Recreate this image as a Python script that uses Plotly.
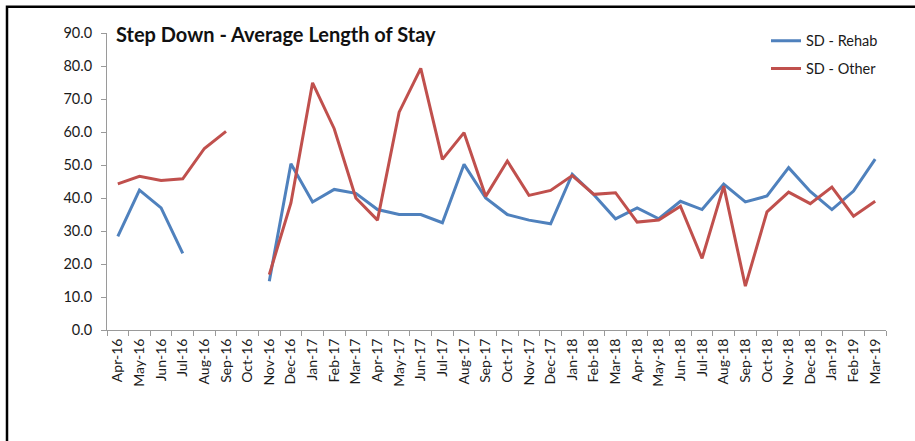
import plotly.graph_objects as go

months = ["Apr-16","May-16","Jun-16","Jul-16","Aug-16","Sep-16","Oct-16","Nov-16","Dec-16",
          "Jan-17","Feb-17","Mar-17","Apr-17","May-17","Jun-17","Jul-17","Aug-17","Sep-17",
          "Oct-17","Nov-17","Dec-17","Jan-18","Feb-18","Mar-18","Apr-18","May-18","Jun-18",
          "Jul-18","Aug-18","Sep-18","Oct-18","Nov-18","Dec-18","Jan-19","Feb-19","Mar-19"]

sd_rehab = [28.4, 42.4, 37.0, 23.2, None, None, None, 14.8, 50.4,
            38.8, 42.6, 41.4, 36.5, 35.0, 35.0, 32.5, 50.2, 40.0,
            35.0, 33.3, 32.2, 47.2, 41.0, 33.7, 37.0, 33.7, 39.0,
            36.5, 44.2, 38.8, 40.6, 49.2, 42.0, 36.5, 42.1, 51.8]

sd_other = [44.3, 46.6, 45.3, 45.8, 55.0, 60.2, None, 16.8, 38.5,
            74.9, 61.0, 40.0, 33.3, 66.0, 79.3, 51.7, 59.8, 40.5,
            51.2, 40.8, 42.3, 46.8, 41.1, 41.6, 32.7, 33.3, 37.5,
            21.7, 43.6, 13.3, 35.8, 41.8, 38.3, 43.3, 34.5, 39.0]

y_ticks = [0, 10, 20, 30, 40, 50, 60, 70, 80, 90]
y_labels = [f"{v:.1f}" for v in y_ticks]

font_family = "Lato, Open Sans, sans-serif"

fig = go.Figure()
fig.add_trace(go.Scatter(x=months, y=sd_rehab, mode="lines", name="SD - Rehab",
                         line=dict(color="#4F81BD", width=3), connectgaps=False,
                         legendgroup="a"))
fig.add_trace(go.Scatter(x=months, y=sd_other, mode="lines", name="SD - Other",
                         line=dict(color="#C0504D", width=3), connectgaps=False,
                         legendgroup="b"))

L, R, T, B = 107, 886, 33.3, 330.5
W, H = 915, 441

def px(x):
    return (x - L) / (R - L)

def py(y):
    return (B - y) / (B - T)

fig.update_layout(
    width=W, height=H,
    margin=dict(l=L, r=W - R, t=T, b=H - B, pad=0),
    paper_bgcolor="white", plot_bgcolor="white",
    font=dict(family=font_family, size=14, color="#1a1a1a"),
    title=dict(text="<b>Step Down - Average Length of Stay</b>",
               font=dict(family=font_family, size=20, color="#111111"),
               xref="paper", yref="paper", x=px(116), y=py(35),
               xanchor="left", yanchor="middle"),
    showlegend=True,
    legend=dict(x=px(766), y=py(25), xanchor="left", yanchor="top",
                bgcolor="rgba(0,0,0,0)", font=dict(size=14.5),
                traceorder="grouped", tracegroupgap=6, itemwidth=30),
    xaxis=dict(type="category", categoryorder="array", categoryarray=months,
               showgrid=False, showline=True, linecolor="#9a9a9a", linewidth=1,
               ticks="outside", ticklen=5, tickcolor="#9a9a9a", tickson="boundaries",
               tickangle=-90, tickfont=dict(size=14), zeroline=False,
               ticklabelstandoff=2,
               range=[-0.5, len(months) - 0.5]),
    yaxis=dict(range=[0, 90], tickvals=y_ticks, ticktext=y_labels,
               showgrid=False, showline=True, linecolor="#9a9a9a", linewidth=1,
               ticks="outside", ticklen=5, tickcolor="#9a9a9a",
               tickfont=dict(size=14.5), zeroline=False, ticklabelstandoff=6),
    shapes=[dict(type="rect", xref="paper", yref="paper",
                 x0=px(7), x1=px(W + 20), y0=py(7), y1=py(H + 20),
                 line=dict(color="black", width=2.5), fillcolor="rgba(0,0,0,0)",
                 layer="below")],
)

fig.write_html("out.html",
               config={"displayModeBar": False},
               post_script="document.body.style.margin='0';document.body.style.overflow='hidden';")
